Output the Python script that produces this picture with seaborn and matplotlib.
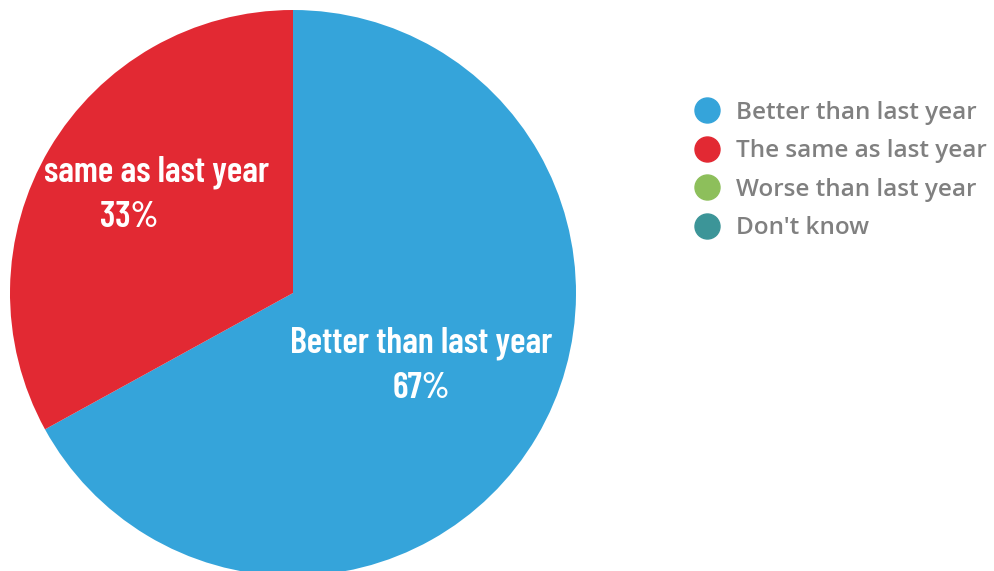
import matplotlib
matplotlib.use("Agg")
import matplotlib.pyplot as plt
from matplotlib.lines import Line2D
from matplotlib.patches import Rectangle
import seaborn as sns

categories = ["Better than last year", "The same as last year", "Worse than last year", "Don't know"]
values = [67, 33, 0, 0]
colors = ["#35A4DA", "#E22933", "#8DBF5B", "#3C9598"]

sns.set_theme(style="white")

W, H, DPI = 995, 571, 100
fig = plt.figure(figsize=(W / DPI, H / DPI), dpi=DPI)
cx, cy, r = 293, 293, 283
ax = fig.add_axes([(cx - r) / W, (H - cy - r) / H, 2 * r / W, 2 * r / H])

shown = [(c, v, col) for c, v, col in zip(categories, values, colors) if v > 0]
wedges, _ = ax.pie([v for _, v, _ in shown], colors=[col for _, _, col in shown],
                   startangle=90, counterclock=False, radius=1,
                   wedgeprops=dict(linewidth=0))
ax.set_xlim(-1, 1)
ax.set_ylim(-1, 1)
ax.set_aspect("equal")
ax.axis("off")

def fx(px):
    return px / W
def fy(py):
    return 1 - py / H

lab_kw = dict(family=["Barlow Condensed", "Roboto Condensed", "DejaVu Sans"], weight=600,
              color="white", fontsize=26, ha="center", va="center", linespacing=1.45)
fig.text(fx(421), fy(365.5), f"{categories[0]}\n{values[0]}%", **lab_kw)
t = fig.text(fx(129), fy(195), f"{categories[1]}\n{values[1]}%", **lab_kw)

# the reference clips the first word of this label at the chart's edge
renderer = fig.canvas.get_renderer()
x0 = t.get_window_extent(renderer).x0
probe = fig.text(0, 0, categories[1].split(" ")[0] + " ", **{**lab_kw, "ha": "left"})
wfirst = probe.get_window_extent(renderer).width
probe.remove()
clip = Rectangle((x0 + wfirst - 3, 0), W, H, transform=None)
t.set_clip_path(clip)

handles = [Line2D([], [], marker="o", linestyle="", markersize=18,
                  markerfacecolor=c, markeredgecolor=c) for c in colors]
leg = fig.legend(handles, categories, loc="upper left", bbox_to_anchor=(fx(680), fy(91)),
                 frameon=False, handletextpad=0.5, labelspacing=0.6, borderaxespad=0,
                 handlelength=1.4,
                 prop=dict(family=["Open Sans", "Lato", "DejaVu Sans"],
                           weight=600, size=17.5))
for txt in leg.get_texts():
    txt.set_color("#808080")

fig.savefig("out.png", dpi=DPI)
